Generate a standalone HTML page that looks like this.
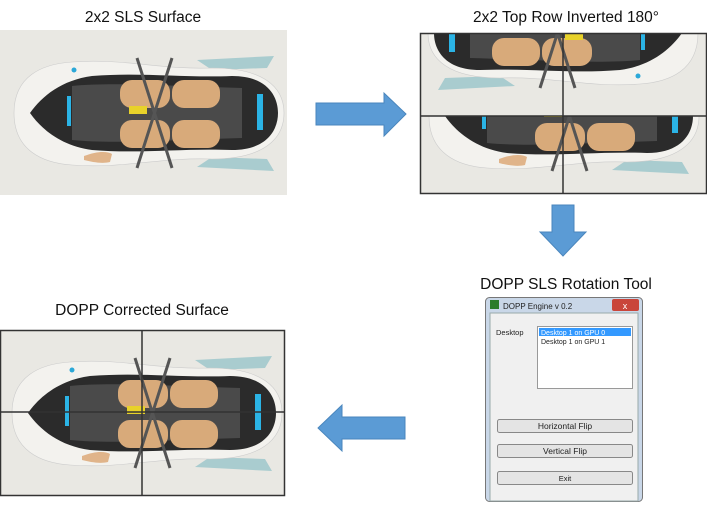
<!DOCTYPE html>
<html><head><meta charset="utf-8"><style>
body{margin:0;width:707px;height:509px;background:#fff;overflow:hidden;font-family:"Liberation Sans",sans-serif}
.t{position:absolute;font-size:15.5px;color:#111;white-space:nowrap;transform:translateX(-50%)}
</style></head><body>
<div class="t" style="left:143px;top:9px">2x2 SLS Surface</div>
<div class="t" style="left:566px;top:9px">2x2 Top Row Inverted 180°</div>
<div class="t" style="left:566px;top:276px">DOPP SLS Rotation Tool</div>
<div class="t" style="left:142px;top:302px">DOPP Corrected Surface</div>
<svg width="707" height="509" style="position:absolute;left:0;top:0">
<defs>
<g id="car">
<path d="M185 4 L262 0 L255 12 L200 14Z M185 111 L262 115 L255 103 L200 101Z" fill="#a9cccf"/>
<path d="M2 57 C2 20 30 8 60 6 C110 2 150 14 200 12 C250 12 272 30 272 57 C272 84 250 103 200 103 C150 101 110 113 60 109 C30 107 2 94 2 57Z" fill="#f3f2ee" stroke="#ccc" stroke-width="0.6"/>
<path d="M18 57 C30 40 50 24 80 20 C130 16 170 22 220 20 C255 20 266 40 266 57 C266 74 255 94 220 94 C170 92 130 98 80 94 C50 90 30 74 18 57Z" fill="#2b2b2b"/>
<path d="M60 30 C100 26 160 30 230 32 L230 82 C160 84 100 88 60 84Z" fill="#4a4a4a"/>
<rect x="108" y="24" width="50" height="28" rx="12" fill="#d8aa7a"/>
<rect x="160" y="24" width="48" height="28" rx="12" fill="#d8aa7a"/>
<rect x="108" y="64" width="50" height="28" rx="12" fill="#d8aa7a"/>
<rect x="160" y="64" width="48" height="28" rx="12" fill="#d8aa7a"/>
<path d="M125 2 L160 112 M160 2 L125 112" stroke="#555" stroke-width="3"/>
<rect x="117" y="50" width="18" height="8" fill="#e8d22a"/>
<rect x="55" y="40" width="4" height="30" fill="#2bb4e6"/>
<rect x="245" y="38" width="6" height="36" fill="#2bb4e6"/>
<circle cx="62" cy="14" r="2.5" fill="#2ba8d8"/>
<path d="M72 100 C85 95 95 95 100 98 L98 106 C90 108 80 106 72 104Z" fill="#e0b48a"/>
</g>
<clipPath id="cT"><rect x="420" y="33" width="287" height="83"/></clipPath>
<clipPath id="cC"><rect x="420" y="116" width="287" height="78"/></clipPath>
</defs>
<!-- image 1 -->
<rect x="0" y="30" width="287" height="165" fill="#e9e8e3"/>
<use href="#car" transform="translate(12,56)"/>
<!-- image 2 -->
<rect x="420" y="33" width="287" height="161" fill="#e9e8e3"/>
<g clip-path="url(#cC)"><use href="#car" transform="translate(427,59)"/></g>
<g clip-path="url(#cT)"><g transform="rotate(180 563.5 74.5)"><g clip-path="url(#cT)"><use href="#car" transform="translate(427,59)"/></g></g></g>
<rect x="420.5" y="33.5" width="286" height="160" fill="none" stroke="#333" stroke-width="1.5"/>
<line x1="563" y1="33" x2="563" y2="194" stroke="#333" stroke-width="1.5"/>
<line x1="420" y1="116" x2="707" y2="116" stroke="#333" stroke-width="1.5"/>
<!-- image 3 -->
<rect x="0" y="330" width="285" height="166" fill="#e9e8e3"/>
<use href="#car" transform="translate(10,356)"/>
<rect x="0.5" y="330.5" width="284" height="165" fill="none" stroke="#333" stroke-width="1.5"/>
<line x1="142" y1="330" x2="142" y2="496" stroke="#333" stroke-width="1.5"/>
<line x1="0" y1="412" x2="285" y2="412" stroke="#333" stroke-width="1.5"/>
<!-- arrows -->
<path d="M316 103 H384 V93 L406 114 L384 136 V125 H316Z" fill="#5b9bd5" stroke="#4a86bd"/>
<path d="M552 205 H574 V232 H586 L563 256 L540 232 H552Z" fill="#5b9bd5" stroke="#4a86bd"/>
<path d="M405 417 H342 V405 L318 428 L342 451 V439 H405Z" fill="#5b9bd5" stroke="#4a86bd"/>
<!-- dialog -->
<rect x="485.5" y="297.5" width="157" height="204" rx="4" fill="#c9d7e8" stroke="#777"/>
<rect x="490" y="313" width="148" height="188" fill="#f0f0f0" stroke="#9aa"/>
<rect x="490" y="300" width="9" height="9" fill="#2a7d2a"/>
<text x="503" y="309" font-size="8" fill="#222">DOPP Engine v 0.2</text>
<rect x="612" y="299" width="27" height="12" rx="2" fill="#c9453a"/>
<text x="625" y="309" font-size="9" fill="#fff" text-anchor="middle">x</text>
<text x="496" y="335" font-size="7.5" fill="#222">Desktop</text>
<rect x="537.5" y="326.5" width="95" height="62" fill="#fff" stroke="#999"/>
<rect x="539" y="328" width="92" height="8" fill="#3399ff"/>
<text x="541" y="335" font-size="7" fill="#fff">Desktop 1 on GPU 0</text>
<text x="541" y="344" font-size="7" fill="#222">Desktop 1 on GPU 1</text>
<g font-size="8.5" fill="#222" text-anchor="middle">
<rect x="497.5" y="419.5" width="135" height="13" rx="2" fill="#e4e4e4" stroke="#888"/><text x="565" y="429">Horizontal Flip</text>
<rect x="497.5" y="444.5" width="135" height="13" rx="2" fill="#e4e4e4" stroke="#888"/><text x="565" y="454">Vertical Flip</text>
<rect x="497.5" y="471.5" width="135" height="13" rx="2" fill="#e4e4e4" stroke="#888"/><text x="565" y="481" font-size="7.5">Exit</text>
</g>
</svg>
</body></html>
